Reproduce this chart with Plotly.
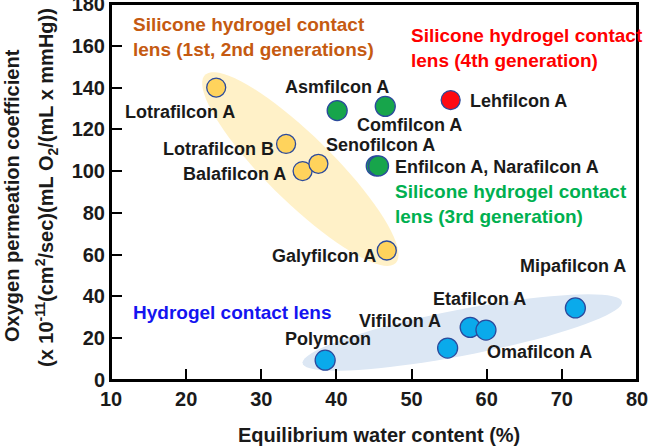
import numpy as np
import plotly.graph_objects as go

# ---------------- data ----------------
gen12_names = ["Lotrafilcon A", "Lotrafilcon B", "Balafilcon A", "Senofilcon A", "Galyfilcon A"]
gen12_water = [24.0, 33.3, 35.5, 37.6, 46.7]
gen12_dk = [140, 113, 100, 103.5, 62]

gen3_names = ["Asmfilcon A", "Comfilcon A", "Enfilcon A", "Narafilcon A"]
gen3_water = [40.1, 46.5, 45.3, 45.6]
gen3_dk = [129, 131, 102.5, 102.5]

gen4_names = ["Lehfilcon A"]
gen4_water = [55.2]
gen4_dk = [134]

hyd_names = ["Polymcon", "Vifilcon A", "Etafilcon A", "Omafilcon A", "Mipafilcon A"]
hyd_water = [38.5, 54.8, 57.8, 59.9, 71.8]
hyd_dk = [9.5, 15.3, 25.2, 23.9, 34.5]

x_ticks = [10, 20, 30, 40, 50, 60, 70, 80]
y_ticks = [0, 20, 40, 60, 80, 100, 120, 140, 160, 180]

# ---------------- layout geometry ----------------
W, H = 651, 447
ML, MR, MT, MB = 111, 14, 4, 67
XR = [10, 80]
YR = [0, 180]
pw, ph = W - ML - MR, H - MT - MB
sx = pw / (XR[1] - XR[0])
sy = ph / (YR[1] - YR[0])

FONT = "Liberation Sans, Arial, sans-serif"


def px_to_paper(px, py):
    return (px - ML) / pw, 1 - (py - MT) / ph


def ellipse_path(p1, p2, half_minor_px, n=80):
    # p1, p2 in data coords; build ellipse in pixel space, return in data coords
    x1, y1 = p1[0] * sx, p1[1] * sy
    x2, y2 = p2[0] * sx, p2[1] * sy
    cx, cy = (x1 + x2) / 2, (y1 + y2) / 2
    a = np.hypot(x2 - x1, y2 - y1) / 2
    th = np.arctan2(y2 - y1, x2 - x1)
    t = np.linspace(0, 2 * np.pi, n)
    ex = cx + a * np.cos(t) * np.cos(th) - half_minor_px * np.sin(t) * np.sin(th)
    ey = cy + a * np.cos(t) * np.sin(th) + half_minor_px * np.sin(t) * np.cos(th)
    xs, ys = ex / sx, ey / sy
    return "M " + " L ".join(f"{a_:.3f},{b_:.3f}" for a_, b_ in zip(xs, ys)) + " Z"


fig = go.Figure()

outline = dict(color="#2B4A9C", width=1.3)
fig.add_trace(go.Scatter(x=gen12_water, y=gen12_dk, mode="markers",
                         marker=dict(size=19, color="#FFD35C", line=outline),
                         hoverinfo="skip", showlegend=False, cliponaxis=False))
fig.add_trace(go.Scatter(x=gen3_water, y=gen3_dk, mode="markers",
                         marker=dict(size=20, color="#17A54B", line=outline),
                         hoverinfo="skip", showlegend=False, cliponaxis=False))
fig.add_trace(go.Scatter(x=gen4_water, y=gen4_dk, mode="markers",
                         marker=dict(size=19, color="#FF0A12", line=outline),
                         hoverinfo="skip", showlegend=False, cliponaxis=False))
fig.add_trace(go.Scatter(x=hyd_water, y=hyd_dk, mode="markers",
                         marker=dict(size=20, color="#0AAAEB", line=outline),
                         hoverinfo="skip", showlegend=False, cliponaxis=False))

shapes = [
    dict(type="path", xref="x", yref="y", layer="below", line=dict(width=0),
         fillcolor="#FFF1C8", path=ellipse_path((22.5, 146), (47.9, 56), 33)),
    dict(type="path", xref="x", yref="y", layer="below", line=dict(width=0),
         fillcolor="#DCE7F4", path=ellipse_path((35.5, 8.0), (78.0, 37.5), 23)),
    dict(type="rect", xref="paper", yref="paper", x0=0, x1=1, y0=0, y1=1,
         line=dict(color="black", width=2), fillcolor="rgba(0,0,0,0)", layer="above"),
]

# label offsets (pixels, relative to the point; +y = up)
label_specs = [
    (gen12_water[0], gen12_dk[0], "Lotrafilcon A", -36, -24, "center"),
    (gen12_water[1], gen12_dk[1], "Lotrafilcon B", -68, -5, "center"),
    (gen12_water[2], gen12_dk[2], "Balafilcon A", -68, -3, "center"),
    (gen12_water[3], gen12_dk[3], "Senofilcon A", 62, 19, "center"),
    (gen12_water[4], gen12_dk[4], "Galyfilcon A", -63, -6, "center"),
    (gen3_water[0], gen3_dk[0], "Asmfilcon A", 0, 24, "center"),
    (gen3_water[1], gen3_dk[1], "Comfilcon A", 24, -19, "center"),
    (gen3_water[3], gen3_dk[3], "Enfilcon A, Narafilcon A", 14, -1, "left"),
    (gen4_water[0], gen4_dk[0], "Lehfilcon A", 17, -1, "left"),
    (hyd_water[0], hyd_dk[0], "Polymcon", 3, 21, "center"),
    (hyd_water[1], hyd_dk[1], "Vifilcon A", -48, 27, "center"),
    (hyd_water[2], hyd_dk[2], "Etafilcon A", 9, 28, "center"),
    (hyd_water[3], hyd_dk[3], "Omafilcon A", 54, -22, "center"),
    (hyd_water[4], hyd_dk[4], "Mipafilcon A", -2, 42, "center"),
]

annotations = []
for x, y, txt, dx, dy, anc in label_specs:
    annotations.append(dict(x=x, y=y, xref="x", yref="y", text=f"<b>{txt}</b>",
                            showarrow=False, xshift=dx, yshift=dy, xanchor=anc,
                            yanchor="middle", font=dict(family=FONT, size=18, color="#1a1a1a")))

group_specs = [
    ("Silicone hydrogel contact<br>lens (1st, 2nd generations)", "#C55A11", 131, 37),
    ("Silicone hydrogel contact<br>lens (4th generation)", "#FF0000", 409, 48),
    ("Silicone hydrogel contact<br>lens (3rd generation)", "#00B050", 393, 204),
    ("Hydrogel contact lens", "#1414F0", 131, 312),
]
for txt, col, px, py in group_specs:
    gx, gy = px_to_paper(px, py)
    annotations.append(dict(x=gx, y=gy, xref="paper", yref="paper",
                            text=f"<b>{txt}</b>", showarrow=False, xanchor="left",
                            yanchor="middle", align="left",
                            font=dict(family=FONT, size=19, color=col)))

# axis titles
tx, ty = px_to_paper(379, 435)
annotations.append(dict(x=tx, y=ty, xref="paper", yref="paper",
                        text="<b>Equilibrium water content (%)</b>", showarrow=False,
                        xanchor="center", yanchor="middle",
                        font=dict(family=FONT, size=20, color="#1a1a1a")))
tx, ty = px_to_paper(12, 196)
annotations.append(dict(x=tx, y=ty, xref="paper", yref="paper",
                        text="<b>Oxygen permeation coefficient</b>", showarrow=False,
                        textangle=-90, xanchor="center", yanchor="middle",
                        font=dict(family=FONT, size=20, color="#1a1a1a")))
tx, ty = px_to_paper(47, 188)
annotations.append(dict(x=tx, y=ty, xref="paper", yref="paper",
                        text="<b>(x 10<sup>-11</sup>(cm<sup>2</sup>/sec)(mL O<sub>2</sub>/(mL x mmHg))</b>",
                        showarrow=False, textangle=-90, xanchor="center", yanchor="middle",
                        font=dict(family=FONT, size=20, color="#1a1a1a")))

axis_common = dict(showgrid=False, zeroline=False, showline=True, linecolor="black",
                   linewidth=2, mirror=True, ticks="inside", ticklen=11, tickwidth=2,
                   tickcolor="black", automargin=False, ticklabeloverflow="allow",
                   tickfont=dict(family=FONT, size=20, color="#1a1a1a"))

fig.update_layout(
    width=W, height=H,
    margin=dict(l=ML, r=MR, t=MT, b=MB, autoexpand=False),
    paper_bgcolor="white", plot_bgcolor="white",
    xaxis=dict(range=XR, tickvals=x_ticks, ticktext=[f"<b>{v}</b>" for v in x_ticks], **axis_common),
    yaxis=dict(range=YR, tickvals=y_ticks, ticktext=[f"<b>{v}</b>" for v in y_ticks], **axis_common),
    shapes=shapes,
    annotations=annotations,
)

fig.write_html("out.html", config={"displayModeBar": False},
               post_script="document.body.style.margin='0px';document.body.style.overflow='hidden';")
